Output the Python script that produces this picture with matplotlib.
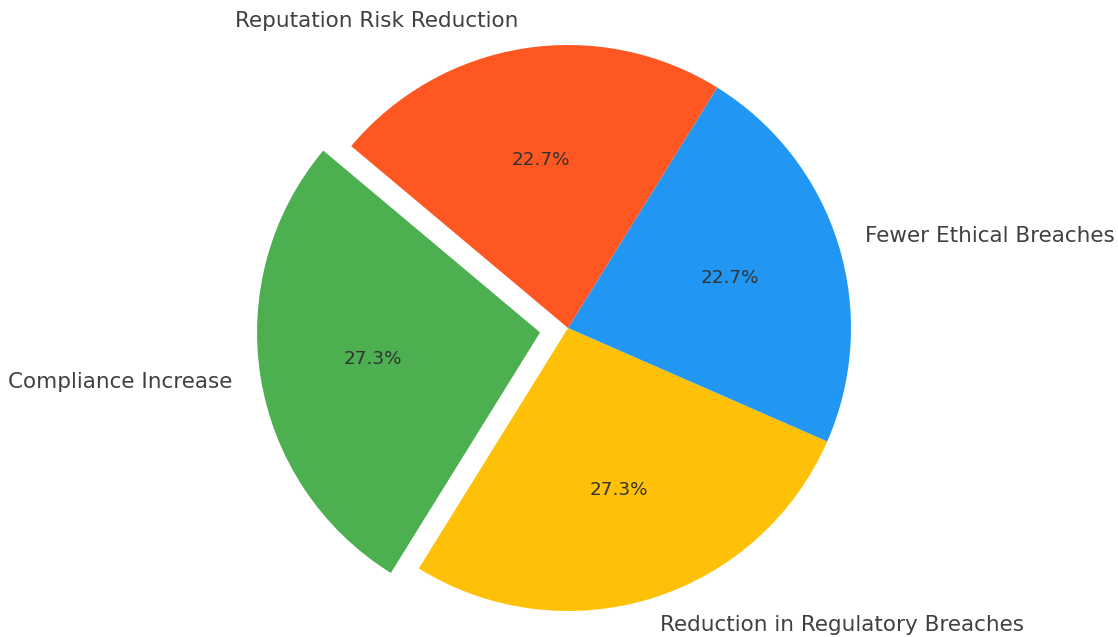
import matplotlib
matplotlib.use("Agg")
import matplotlib.pyplot as plt

categories = ["Compliance Increase", "Reduction in Regulatory Breaches",
              "Fewer Ethical Breaches", "Reputation Risk Reduction"]
values = [30, 30, 25, 25]
colors = ["#4CAF50", "#FFC107", "#2196F3", "#FF5722"]
explode = [0.1, 0, 0, 0]

W, H = 1118, 637
fig = plt.figure(figsize=(W / 100, H / 100), dpi=100)
ax = fig.add_axes([0, 0, 1, 1])
R = 283.0
cx, cy = 568.0, 637 - 328.0

wedges, texts, autotexts = ax.pie(values, labels=categories, colors=colors,
                                  explode=explode, startangle=140,
                                  autopct="%1.1f%%",
                                  textprops={"fontsize": 15.5, "color": "#404040"})
for t in autotexts:
    t.set_fontsize(13.2)
    t.set_color("#333333")
ax.set_xlim(-cx / R, (W - cx) / R)
ax.set_ylim(-cy / R, (H - cy) / R)
ax.set_aspect("auto")
ax.axis("off")
fig.savefig("out.png", dpi=100)
